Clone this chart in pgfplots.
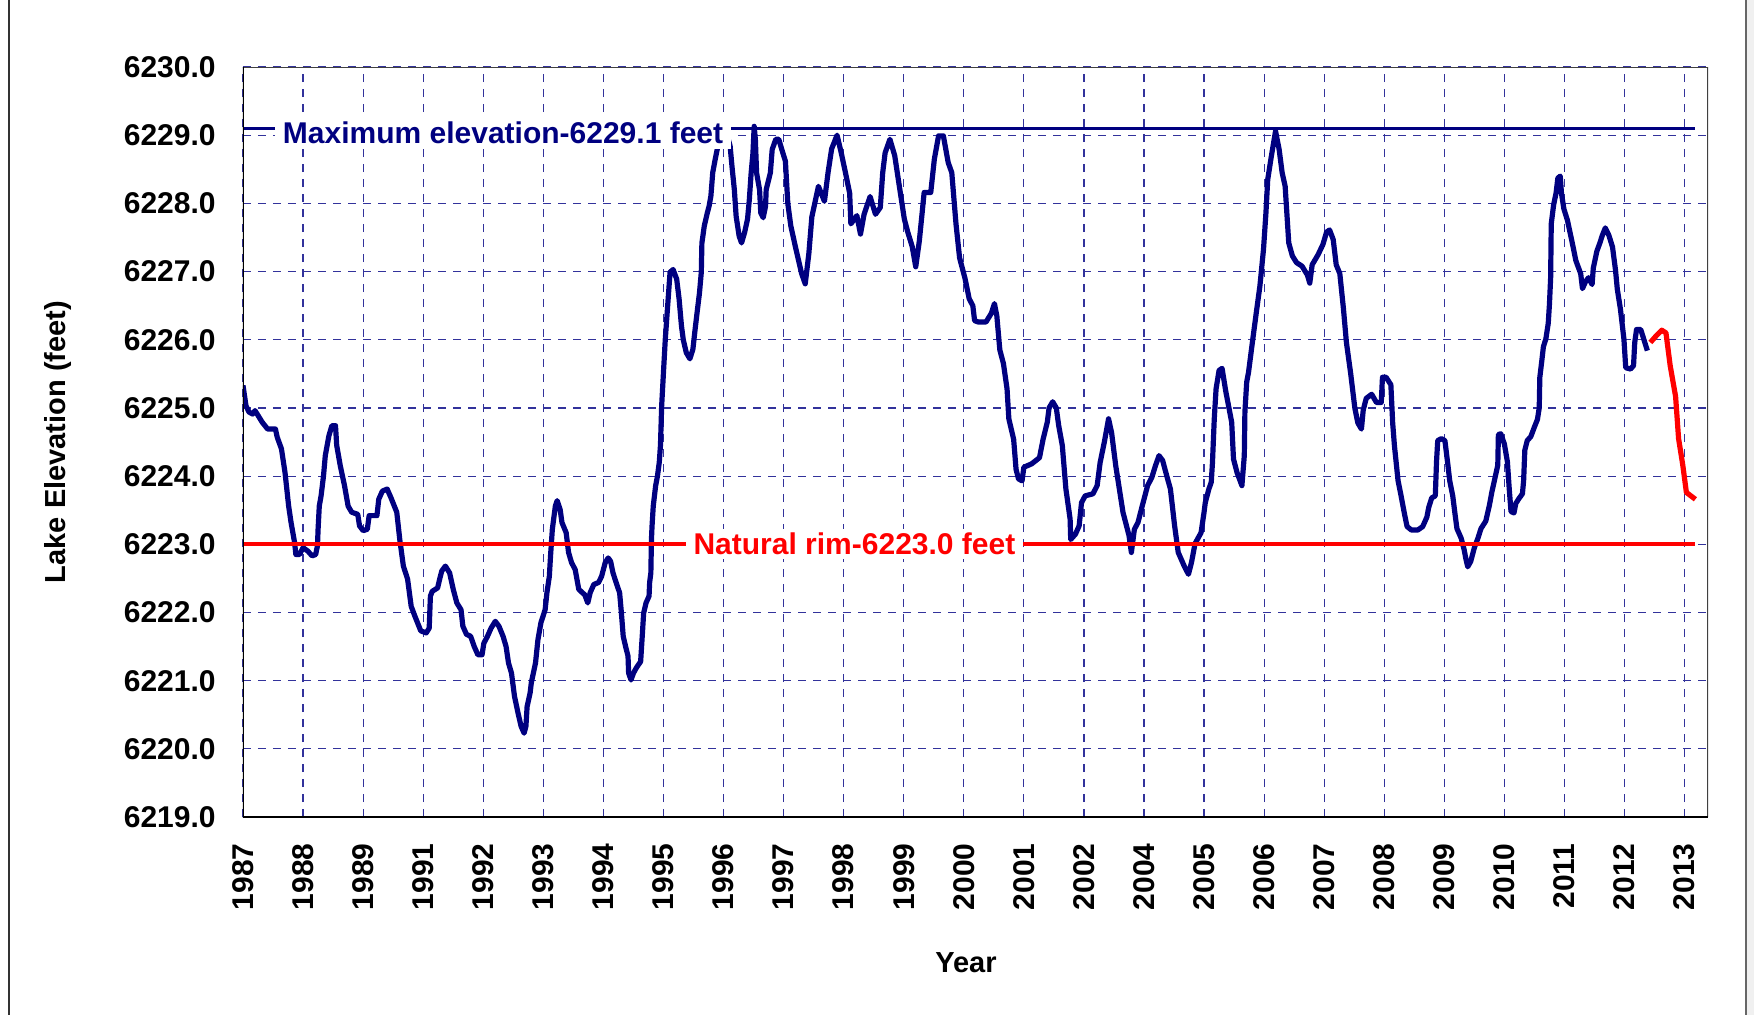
\documentclass[border=0pt]{standalone}
\usepackage{fontspec}
\setmainfont{Liberation Sans}
\usepackage{pgfplots}
\pgfplotsset{compat=1.18}
\definecolor{navyline}{RGB}{0,0,128}
\definecolor{gridblue}{RGB}{50,50,155}
\definecolor{rimred}{RGB}{255,0,0}
\begin{document}
\begin{tikzpicture}
\begin{axis}[
  scale only axis, width=732.5pt, height=375pt,
  xmin=0, xmax=24.39, ymin=6219, ymax=6230,
  axis line style={draw=none},
  tick style={draw=none}, major tick length=0pt,
  xtick={0,...,24},
  xticklabels={1987,1988,1989,1991,1992,1993,1994,1995,1996,1997,1998,1999,2000,2001,2002,2004,2005,2006,2007,2008,2009,2010,2011,2012,2013},
  ytick={6219,...,6230},
  scaled y ticks=false,
  /pgf/number format/assume math mode=true,
  yticklabel style={/pgf/number format/fixed, /pgf/number format/fixed zerofill, /pgf/number format/precision=1, /pgf/number format/1000 sep={}},
  ticklabel style={font=\fontsize{15}{18}\selectfont\bfseries, inner sep=0pt},
  xticklabel style={rotate=90, anchor=east},
  yticklabel style={anchor=east},
  xticklabel shift=13pt,
  yticklabel shift=13.5pt,
  grid=major,
  major grid style={dash pattern=on 4pt off 3.5pt, color=gridblue, line width=0.6pt},
]
\addplot[navyline, line width=2.6pt, line join=round, no markers] coordinates {
(0.00,6225.33)(0.05,6225.03)(0.10,6224.94)(0.16,6224.91)(0.20,6224.96)(0.25,6224.89)(0.32,6224.79)(0.41,6224.69)(0.54,6224.69)(0.57,6224.57)(0.64,6224.40)(0.70,6224.05)(0.76,6223.56)(0.80,6223.32)(0.86,6223.02)(0.88,6222.85)(0.94,6222.85)(1.00,6222.95)(1.08,6222.90)(1.15,6222.83)(1.21,6222.85)(1.24,6222.98)(1.25,6223.22)(1.27,6223.56)(1.30,6223.71)(1.34,6224.00)(1.37,6224.30)(1.43,6224.59)(1.48,6224.74)(1.54,6224.74)(1.56,6224.45)(1.62,6224.15)(1.69,6223.86)(1.75,6223.56)(1.81,6223.47)(1.91,6223.44)(1.94,6223.27)(2.00,6223.20)(2.07,6223.22)(2.10,6223.42)(2.23,6223.42)(2.26,6223.66)(2.32,6223.78)(2.40,6223.81)(2.46,6223.69)(2.56,6223.47)(2.61,6223.07)(2.67,6222.68)(2.74,6222.49)(2.80,6222.09)(2.86,6221.95)(2.96,6221.73)(3.05,6221.70)(3.10,6221.77)(3.12,6222.24)(3.15,6222.31)(3.24,6222.36)(3.28,6222.51)(3.31,6222.61)(3.37,6222.68)(3.44,6222.58)(3.50,6222.34)(3.56,6222.14)(3.63,6222.04)(3.66,6221.80)(3.72,6221.68)(3.79,6221.65)(3.85,6221.50)(3.91,6221.38)(3.98,6221.38)(4.01,6221.55)(4.07,6221.65)(4.13,6221.77)(4.20,6221.87)(4.26,6221.80)(4.33,6221.65)(4.38,6221.50)(4.42,6221.26)(4.47,6221.11)(4.52,6220.77)(4.58,6220.52)(4.63,6220.33)(4.68,6220.23)(4.71,6220.33)(4.73,6220.62)(4.78,6220.82)(4.80,6220.97)(4.87,6221.26)(4.91,6221.60)(4.96,6221.85)(5.03,6222.04)(5.06,6222.29)(5.10,6222.53)(5.12,6222.83)(5.15,6223.22)(5.20,6223.56)(5.23,6223.64)(5.28,6223.51)(5.31,6223.32)(5.38,6223.17)(5.42,6222.88)(5.47,6222.73)(5.53,6222.63)(5.59,6222.34)(5.65,6222.29)(5.69,6222.26)(5.74,6222.14)(5.78,6222.29)(5.84,6222.41)(5.92,6222.44)(5.97,6222.53)(6.03,6222.73)(6.08,6222.80)(6.12,6222.75)(6.16,6222.58)(6.23,6222.39)(6.27,6222.29)(6.30,6221.99)(6.33,6221.65)(6.37,6221.50)(6.41,6221.36)(6.42,6221.11)(6.46,6221.01)(6.50,6221.11)(6.55,6221.19)(6.62,6221.28)(6.65,6221.70)(6.67,6221.99)(6.71,6222.14)(6.76,6222.24)(6.77,6222.44)(6.79,6222.58)(6.80,6223.07)(6.81,6223.27)(6.83,6223.56)(6.85,6223.71)(6.87,6223.86)(6.90,6224.00)(6.93,6224.20)(6.95,6224.45)(6.97,6225.03)(7.00,6225.52)(7.03,6226.00)(7.07,6226.50)(7.11,6226.99)(7.16,6227.03)(7.22,6226.89)(7.26,6226.60)(7.30,6226.20)(7.33,6226.00)(7.38,6225.81)(7.44,6225.72)(7.49,6225.86)(7.52,6226.10)(7.56,6226.40)(7.60,6226.69)(7.63,6226.99)(7.64,6227.42)(7.68,6227.67)(7.73,6227.86)(7.76,6227.96)(7.79,6228.11)(7.82,6228.45)(7.86,6228.64)(7.92,6228.90)(8.00,6229.00)(8.06,6229.00)(8.11,6228.84)(8.14,6228.55)(8.18,6228.20)(8.21,6227.81)(8.26,6227.52)(8.30,6227.42)(8.35,6227.57)(8.40,6227.77)(8.43,6228.06)(8.46,6228.45)(8.49,6228.74)(8.51,6229.13)(8.53,6228.94)(8.55,6228.45)(8.60,6228.20)(8.62,6227.86)(8.66,6227.79)(8.70,6227.96)(8.71,6228.20)(8.78,6228.45)(8.81,6228.79)(8.87,6228.94)(8.92,6228.94)(8.97,6228.79)(9.03,6228.62)(9.07,6228.00)(9.12,6227.67)(9.20,6227.35)(9.30,6226.97)(9.36,6226.82)(9.42,6227.26)(9.47,6227.80)(9.58,6228.25)(9.68,6228.03)(9.74,6228.45)(9.80,6228.80)(9.89,6229.00)(9.96,6228.74)(10.03,6228.45)(10.10,6228.15)(10.12,6227.70)(10.22,6227.82)(10.28,6227.55)(10.34,6227.84)(10.44,6228.10)(10.53,6227.84)(10.61,6227.94)(10.65,6228.45)(10.69,6228.74)(10.77,6228.94)(10.85,6228.70)(10.91,6228.35)(11.01,6227.77)(11.07,6227.57)(11.14,6227.37)(11.20,6227.07)(11.26,6227.45)(11.34,6228.16)(11.45,6228.16)(11.51,6228.65)(11.58,6228.99)(11.66,6228.99)(11.74,6228.60)(11.80,6228.45)(11.87,6227.70)(11.93,6227.20)(12.02,6226.90)(12.09,6226.60)(12.15,6226.50)(12.18,6226.28)(12.24,6226.26)(12.37,6226.26)(12.46,6226.39)(12.51,6226.53)(12.55,6226.35)(12.60,6225.85)(12.66,6225.65)(12.72,6225.28)(12.75,6224.84)(12.83,6224.54)(12.87,6224.10)(12.91,6223.96)(12.97,6223.93)(13.00,6224.13)(13.13,6224.18)(13.26,6224.27)(13.32,6224.54)(13.39,6224.79)(13.42,6225.00)(13.48,6225.09)(13.54,6225.00)(13.58,6224.74)(13.64,6224.45)(13.70,6223.81)(13.77,6223.37)(13.78,6223.07)(13.86,6223.15)(13.92,6223.27)(13.96,6223.61)(14.02,6223.71)(14.15,6223.74)(14.22,6223.86)(14.27,6224.20)(14.34,6224.50)(14.41,6224.84)(14.46,6224.64)(14.53,6224.15)(14.59,6223.81)(14.65,6223.47)(14.75,6223.13)(14.79,6222.88)(14.84,6223.22)(14.90,6223.32)(14.97,6223.56)(15.06,6223.86)(15.13,6223.98)(15.19,6224.15)(15.25,6224.30)(15.31,6224.23)(15.38,6224.00)(15.44,6223.81)(15.51,6223.27)(15.57,6222.88)(15.67,6222.68)(15.74,6222.56)(15.79,6222.73)(15.85,6223.01)(15.95,6223.17)(16.00,6223.47)(16.02,6223.61)(16.08,6223.81)(16.12,6223.91)(16.14,6224.20)(16.17,6224.84)(16.20,6225.28)(16.25,6225.55)(16.30,6225.58)(16.36,6225.25)(16.46,6224.79)(16.49,6224.25)(16.55,6224.05)(16.63,6223.86)(16.67,6224.30)(16.68,6224.94)(16.71,6225.38)(16.74,6225.52)(16.81,6226.00)(16.87,6226.40)(16.93,6226.79)(16.99,6227.33)(17.03,6227.86)(17.06,6228.35)(17.12,6228.69)(17.19,6229.06)(17.25,6228.79)(17.30,6228.45)(17.35,6228.25)(17.41,6227.42)(17.47,6227.23)(17.54,6227.13)(17.63,6227.08)(17.72,6226.95)(17.76,6226.83)(17.80,6227.10)(17.90,6227.25)(17.98,6227.40)(18.04,6227.58)(18.09,6227.61)(18.15,6227.47)(18.20,6227.10)(18.26,6226.97)(18.32,6226.46)(18.37,6225.96)(18.44,6225.51)(18.51,6225.00)(18.56,6224.78)(18.62,6224.69)(18.65,6224.97)(18.70,6225.14)(18.79,6225.20)(18.87,6225.08)(18.95,6225.08)(18.97,6225.45)(19.03,6225.45)(19.11,6225.34)(19.14,6224.78)(19.17,6224.44)(19.23,6223.93)(19.28,6223.71)(19.34,6223.43)(19.38,6223.26)(19.45,6223.21)(19.56,6223.21)(19.64,6223.26)(19.71,6223.40)(19.74,6223.54)(19.79,6223.68)(19.85,6223.71)(19.87,6224.21)(19.89,6224.52)(19.95,6224.55)(20.01,6224.52)(20.06,6224.16)(20.09,6223.93)(20.14,6223.71)(20.18,6223.43)(20.21,6223.23)(20.28,6223.09)(20.33,6222.92)(20.36,6222.78)(20.39,6222.67)(20.44,6222.75)(20.50,6222.95)(20.56,6223.09)(20.61,6223.23)(20.69,6223.34)(20.75,6223.57)(20.79,6223.76)(20.84,6223.96)(20.89,6224.16)(20.90,6224.61)(20.94,6224.62)(21.00,6224.47)(21.05,6224.21)(21.08,6223.82)(21.11,6223.48)(21.16,6223.46)(21.19,6223.60)(21.25,6223.68)(21.30,6223.74)(21.32,6223.93)(21.34,6224.38)(21.38,6224.52)(21.44,6224.58)(21.50,6224.72)(21.55,6224.83)(21.58,6225.00)(21.59,6225.45)(21.62,6225.67)(21.65,6225.90)(21.69,6226.01)(21.73,6226.24)(21.75,6226.52)(21.77,6226.91)(21.78,6227.70)(21.82,6227.98)(21.86,6228.15)(21.89,6228.37)(21.93,6228.40)(21.95,6228.15)(21.99,6227.92)(22.05,6227.75)(22.13,6227.42)(22.19,6227.16)(22.27,6226.97)(22.30,6226.75)(22.35,6226.85)(22.40,6226.91)(22.46,6226.81)(22.48,6227.05)(22.54,6227.30)(22.59,6227.42)(22.63,6227.53)(22.68,6227.64)(22.74,6227.53)(22.80,6227.36)(22.85,6227.02)(22.88,6226.74)(22.93,6226.46)(22.99,6226.01)(23.02,6225.59)(23.10,6225.57)(23.15,6225.62)(23.17,6225.96)(23.20,6226.15)(23.27,6226.15)(23.32,6226.01)(23.38,6225.84)
};
\addplot[rimred, line width=2.6pt, line join=round, no markers] coordinates {
(23.43,6225.96)(23.54,6226.07)(23.62,6226.14)(23.69,6226.10)(23.76,6225.62)(23.85,6225.17)(23.90,6224.55)(23.97,6224.16)(24.03,6223.76)(24.18,6223.66)
};
\addplot[navyline, line width=1.7pt, no markers] coordinates {(0,6229.1)(24.18,6229.1)};
\addplot[rimred, line width=1.9pt, no markers] coordinates {(0,6223.0)(24.18,6223.0)};
\draw[black!75, line width=0.8pt] (rel axis cs:0,1) -- (rel axis cs:1,1) -- (rel axis cs:1,0);
\draw[black, line width=1.1pt] (rel axis cs:0,1) -- (rel axis cs:0,0) -- (rel axis cs:1,0);
\node[fill=white, inner xsep=4pt, inner ysep=2.5pt, text=navyline, font=\fontsize{15}{18}\selectfont\bfseries] at (axis cs:4.33,6229.03) {Maximum elevation-6229.1 feet};
\node[fill=white, inner xsep=4pt, inner ysep=2pt, text=rimred, font=\fontsize{15}{18}\selectfont\bfseries] at (axis cs:10.18,6223.0) {Natural rim-6223.0 feet};
\end{axis}
\node[rotate=90, font=\fontsize{14.5}{17}\selectfont\bfseries] at (-92.5pt,187.5pt) {Lake Elevation (feet)};
\node[font=\fontsize{14.5}{17}\selectfont\bfseries] at (361.5pt,-73pt) {Year};
\fill[gray!12] (751.5pt,-110pt) rectangle (760pt,420pt);
\draw[black!80, line width=0.6pt] (-117pt,-110pt) -- (-117pt,420pt);
\draw[black!60, line width=0.8pt] (751.5pt,-110pt) -- (751.5pt,420pt);
\pgfresetboundingbox
\path[use as bounding box] (-121.5pt,-98.5pt) rectangle (755.5pt,408.5pt);
\end{tikzpicture}
\end{document}
